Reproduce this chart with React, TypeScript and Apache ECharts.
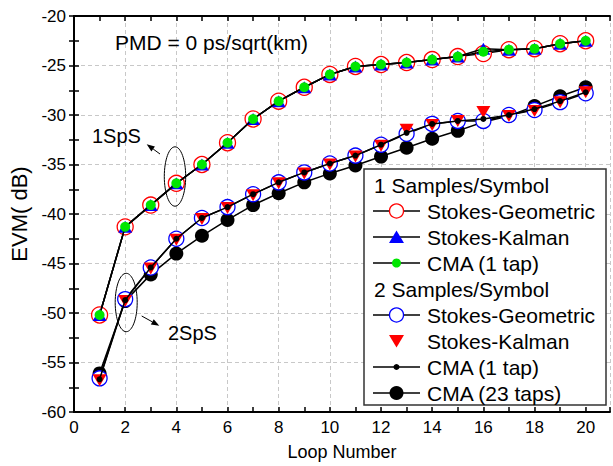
import React, { useEffect, useRef } from "react";
import * as echarts from "echarts";

const loops = [1, 2, 3, 4, 5, 6, 7, 8, 9, 10, 11, 12, 13, 14, 15, 16, 17, 18, 19, 20];

// 1 sample per symbol
const sps1Geometric = [-50.2, -41.3, -39.1, -36.9, -35.0, -32.8, -30.4, -28.6, -27.2, -25.9, -25.1, -24.9, -24.7, -24.4, -24.1, -23.8, -23.4, -23.3, -22.8, -22.5];
const sps1Kalman = [-50.2, -41.3, -39.1, -36.9, -35.0, -32.8, -30.4, -28.6, -27.2, -25.9, -25.1, -24.9, -24.7, -24.4, -24.1, -23.3, -23.4, -23.3, -22.8, -22.5];
const sps1Cma1 = [-50.2, -41.3, -39.1, -36.9, -35.0, -32.8, -30.4, -28.6, -27.2, -25.9, -25.1, -24.9, -24.7, -24.4, -24.1, -23.6, -23.4, -23.3, -22.8, -22.5];

// 2 samples per symbol
const sps2Geometric = [-56.6, -48.6, -45.4, -42.5, -40.4, -39.3, -38.0, -36.8, -35.8, -34.9, -34.1, -33.0, -31.9, -30.9, -30.6, -30.6, -30.0, -29.5, -28.7, -27.8];
const sps2Kalman = [-56.8, -48.8, -45.5, -42.6, -40.5, -39.4, -38.1, -36.9, -35.9, -35.0, -34.2, -33.1, -31.5, -31.0, -30.6, -29.7, -30.1, -29.6, -28.7, -27.7];
const sps2Cma1 = [-56.7, -48.7, -45.4, -42.5, -40.4, -39.3, -38.0, -36.8, -35.8, -34.9, -34.1, -33.0, -31.8, -30.9, -30.6, -30.4, -30.0, -29.4, -28.6, -27.7];
const sps2Cma23 = [-56.1, -48.8, -46.1, -44.0, -42.2, -40.6, -39.1, -37.9, -36.8, -35.9, -35.1, -34.2, -33.3, -32.4, -31.6, -30.7, -30.1, -29.1, -28.1, -27.2];

const xTickLabels = ["0", "2", "4", "6", "8", "10", "12", "14", "16", "18", "20"];
const legendHeaders = ["1 Samples/Symbol", "2 Samples/Symbol"];
const legendNames = ["Stokes-Geometric", "Stokes-Kalman", "CMA (1 tap)", "Stokes-Geometric", "Stokes-Kalman", "CMA (1 tap)", "CMA (23 taps)"];
const annotationTitle = "PMD = 0 ps/sqrt(km)";
const annotation1 = "1SpS";
const annotation2 = "2SpS";

const FONT = 'Arial, "Liberation Sans", sans-serif';

const pairs = (ys: number[]) => loops.map((x, i) => [x, ys[i]]);

function arrow(x1: number, y1: number, x2: number, y2: number) {
  const dx = x2 - x1, dy = y2 - y1;
  const len = Math.sqrt(dx * dx + dy * dy);
  const ux = dx / len, uy = dy / len;
  const hl = 8, hw = 3;
  const bx = x2 - ux * hl, by = y2 - uy * hl;
  return [
    { type: "line", z: 100, shape: { x1, y1, x2: bx, y2: by }, style: { stroke: "#000", lineWidth: 1 } },
    {
      type: "polygon", z: 100,
      shape: { points: [[x2, y2], [bx - uy * hw, by + ux * hw], [bx + uy * hw, by - ux * hw]] },
      style: { fill: "#000" },
    },
  ];
}

export default function App() {
  const ref = useRef<HTMLDivElement>(null);
  useEffect(() => {
    if (!ref.current) return;
    const chart = echarts.init(ref.current, null, { renderer: "svg" });
    const lineStyle = { color: "#000", width: 1.5 };
    const axisLine = { show: true, lineStyle: { color: "#000", width: 2 } };
    const tick = { show: true, inside: true, length: 5, lineStyle: { color: "#000", width: 1.5 } };
    const minorTick = { show: true, splitNumber: 2, length: 5, lineStyle: { color: "#000", width: 1.5 } };
    const dashed = { show: true, lineStyle: { color: "#c8c8c8", type: [4, 3], width: 1 } };

    // legend graphics
    const lx0 = 373, lx1 = 420, mx = 396.5, tx = 427, rowY0 = 185, rowStep = 26;
    const rowY = (i: number) => rowY0 + rowStep * i;
    const legendEls: any[] = [
      { type: "rect", z: 90, shape: { x: 364, y: 169, width: 242, height: 236 }, style: { fill: "#fff", stroke: "#333", lineWidth: 1.5 } },
    ];
    const header = (txt: string, i: number) => ({
      type: "text", z: 100, x: 374, y: rowY(i),
      style: { text: txt, fill: "#000", font: `21px ${FONT}`, textVerticalAlign: "middle" },
    });
    const item = (txt: string, i: number, withLine: boolean, marker: any) => {
      const els: any[] = [];
      if (withLine) els.push({ type: "line", z: 100, shape: { x1: lx0, y1: rowY(i), x2: lx1, y2: rowY(i) }, style: { stroke: "#000", lineWidth: 1.5 } });
      els.push({ ...marker, z: 101 });
      els.push({ type: "text", z: 100, x: tx, y: rowY(i), style: { text: txt, fill: "#000", font: `21px ${FONT}`, textVerticalAlign: "middle" } });
      return els;
    };
    legendEls.push(header(legendHeaders[0], 0));
    legendEls.push(...item(legendNames[0], 1, true, { type: "circle", shape: { cx: mx, cy: rowY(1), r: 7 }, style: { fill: "#fff", stroke: "#f00", lineWidth: 1.3 } }));
    legendEls.push(...item(legendNames[1], 2, true, { type: "polygon", shape: { points: [[mx - 7.5, rowY(2) + 6], [mx + 7.5, rowY(2) + 6], [mx, rowY(2) - 6.5]] }, style: { fill: "#00f" } }));
    legendEls.push(...item(legendNames[2], 3, true, { type: "circle", shape: { cx: mx, cy: rowY(3), r: 4.5 }, style: { fill: "#00e600" } }));
    legendEls.push(header(legendHeaders[1], 4));
    legendEls.push(...item(legendNames[3], 5, true, { type: "circle", shape: { cx: mx, cy: rowY(5), r: 7 }, style: { fill: "#fff", stroke: "#00f", lineWidth: 1.3 } }));
    legendEls.push(...item(legendNames[4], 6, false, { type: "polygon", shape: { points: [[mx - 7.5, rowY(6) - 6], [mx + 7.5, rowY(6) - 6], [mx, rowY(6) + 6.5]] }, style: { fill: "#f00" } }));
    legendEls.push(...item(legendNames[5], 7, true, { type: "circle", shape: { cx: mx, cy: rowY(7), r: 3 }, style: { fill: "#000" } }));
    legendEls.push(...item(legendNames[6], 8, true, { type: "circle", shape: { cx: mx, cy: rowY(8), r: 7 }, style: { fill: "#000" } }));

    const annotEls: any[] = [
      { type: "text", z: 100, x: 115, y: 42, style: { text: annotationTitle, fill: "#000", font: `21px ${FONT}`, textVerticalAlign: "middle" } },
      { type: "text", z: 100, x: 92, y: 136, style: { text: annotation1, fill: "#000", font: `20px ${FONT}`, textVerticalAlign: "middle" } },
      { type: "text", z: 100, x: 168, y: 333, style: { text: annotation2, fill: "#000", font: `20px ${FONT}`, textVerticalAlign: "middle" } },
      { type: "ellipse", z: 100, shape: { cx: 175, cy: 176.5, rx: 10.7, ry: 29.7 }, style: { fill: "none", stroke: "#000", lineWidth: 1 } },
      { type: "ellipse", z: 100, shape: { cx: 126.2, cy: 302.5, rx: 11, ry: 29.2 }, style: { fill: "none", stroke: "#000", lineWidth: 1 } },
      ...arrow(160, 154, 146.7, 144.3),
      ...arrow(141.7, 316, 159.3, 325.7),
    ];

    const option: any = {
      animation: false,
      backgroundColor: "#fff",
      textStyle: { fontFamily: FONT },
      grid: { left: 74, top: 16, right: 2, bottom: 54, containLabel: false },
      xAxis: [
        {
          type: "value", position: "bottom", min: 0, max: 20.95, interval: 1,
          axisLine, axisTick: tick, splitLine: { show: false },
          axisLabel: {
            color: "#000", fontSize: 17, margin: 7, fontFamily: FONT,
            formatter: (v: number) => {
              const s = String(v);
              return xTickLabels.includes(s) ? s : "";
            },
          },
          name: "Loop Number", nameLocation: "middle", nameGap: 31,
          nameTextStyle: { color: "#000", fontSize: 18, fontFamily: FONT },
        },
        {
          type: "value", position: "top", min: 0, max: 20.95, interval: 1,
          axisLine, axisTick: tick, axisLabel: { show: false }, splitLine: { show: false },
        },
        {
          type: "value", position: "bottom", min: 0, max: 20.95, interval: 2,
          axisLine: { show: false }, axisTick: { show: false }, axisLabel: { show: false }, splitLine: dashed,
        },
      ],
      yAxis: [
        {
          type: "value", position: "left", min: -60, max: -20, interval: 5,
          axisLine, axisTick: tick, minorTick, splitLine: dashed,
          axisLabel: { color: "#000", fontSize: 17, margin: 8, fontFamily: FONT },
          name: "EVM( dB)", nameLocation: "middle", nameGap: 43, nameRotate: 90,
          nameTextStyle: { color: "#000", fontSize: 22, fontFamily: FONT },
        },
        {
          type: "value", position: "right", min: -60, max: -20, interval: 5,
          axisLine, axisTick: tick, minorTick, splitLine: { show: false }, axisLabel: { show: false },
        },
      ],
      series: [
        {
          name: "1 Stokes-Geometric", type: "line", xAxisIndex: 0, yAxisIndex: 0, z: 2,
          data: pairs(sps1Geometric), symbol: "circle", symbolSize: 16, showAllSymbol: true,
          lineStyle, itemStyle: { color: "#fff", borderColor: "#f00", borderWidth: 1.3 },
        },
        {
          name: "1 Stokes-Kalman", type: "line", xAxisIndex: 0, yAxisIndex: 0, z: 3,
          data: pairs(sps1Kalman), symbol: "triangle", symbolSize: [14, 12],
          lineStyle, itemStyle: { color: "#00f" },
        },
        {
          name: "1 CMA (1 tap)", type: "line", xAxisIndex: 0, yAxisIndex: 0, z: 4,
          data: pairs(sps1Cma1), symbol: "circle", symbolSize: 10,
          lineStyle, itemStyle: { color: "#00e600" },
        },
        {
          name: "2 CMA (23 taps)", type: "line", xAxisIndex: 0, yAxisIndex: 0, z: 2,
          data: pairs(sps2Cma23), symbol: "circle", symbolSize: 14,
          lineStyle, itemStyle: { color: "#000" },
        },
        {
          name: "2 Stokes-Geometric", type: "line", xAxisIndex: 0, yAxisIndex: 0, z: 3,
          data: pairs(sps2Geometric), symbol: "circle", symbolSize: 15,
          lineStyle, itemStyle: { color: "#fff", borderColor: "#00f", borderWidth: 1.3 },
        },
        {
          name: "2 Stokes-Kalman", type: "line", xAxisIndex: 0, yAxisIndex: 0, z: 4,
          data: pairs(sps2Kalman), symbol: "triangle", symbolRotate: 180, symbolSize: [14, 12],
          lineStyle: { width: 0, opacity: 0 }, itemStyle: { color: "#f00" },
        },
        {
          name: "2 CMA (1 tap)", type: "line", xAxisIndex: 0, yAxisIndex: 0, z: 5,
          data: pairs(sps2Cma1), symbol: "circle", symbolSize: 6,
          lineStyle, itemStyle: { color: "#000" },
        },
      ],
      graphic: [...annotEls, ...legendEls],
    };
    chart.setOption(option);
    return () => chart.dispose();
  }, []);
  return <div ref={ref} style={{ position: "fixed", left: 0, top: 0, width: 613, height: 466 }} />;
}
